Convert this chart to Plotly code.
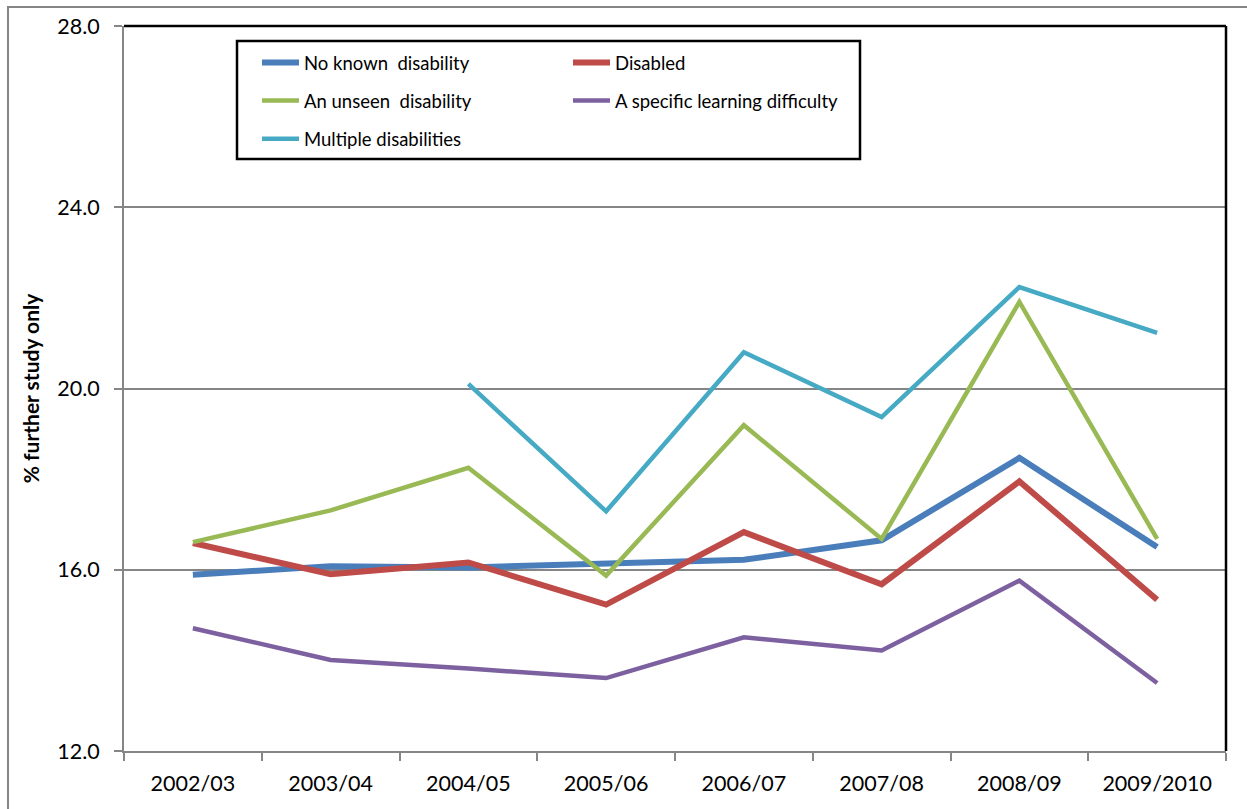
import plotly.graph_objects as go

# Academic years on the category axis
years = ["2002/03", "2003/04", "2004/05", "2005/06", "2006/07", "2007/08", "2008/09", "2009/2010"]

# % of leavers in further study only, by disability status
no_known = [15.89, 16.08, 16.05, 16.13, 16.22, 16.65, 18.47, 16.50]
disabled = [16.59, 15.90, 16.16, 15.23, 16.83, 15.68, 17.95, 15.34]
unseen = [16.61, 17.31, 18.25, 15.87, 19.19, 16.68, 21.91, 16.68]
specific_ld = [14.71, 14.01, 13.82, 13.61, 14.51, 14.22, 15.76, 13.50]
multiple = [None, None, 20.10, 17.29, 20.80, 19.37, 22.24, 21.23]

y_ticks = [12.0, 16.0, 20.0, 24.0, 28.0]

W, H = 1247, 809
ML, MR, MT, MB = 124, 21, 26, 58
PW, PH = W - ML - MR, H - MT - MB

def px_x(p):
    return (p - ML) / PW

def px_y(p):
    return (H - MB - p) / PH

FONT = "Lato"
GRAY = "#868686"

series = [
    ("No known  disability", no_known, "#4A7EBB", 6, "legend"),
    ("Disabled", disabled, "#BE4B48", 6, "legend2"),
    ("An unseen  disability", unseen, "#98B954", 4.5, "legend"),
    ("A specific learning difficulty", specific_ld, "#7D60A0", 4.5, "legend2"),
    ("Multiple disabilities", multiple, "#46AAC5", 4.5, "legend"),
]

fig = go.Figure()
for name, vals, color, width, leg in series:
    fig.add_trace(go.Scatter(
        x=years, y=vals, name=name, mode="lines",
        line=dict(color=color, width=width),
        connectgaps=False, legend=leg, legendgroup=name,
    ))

legend_common = dict(
    bgcolor="rgba(0,0,0,0)", borderwidth=0,
    font=dict(family=FONT, size=18.5, color="#000000"),
    traceorder="grouped", tracegroupgap=11,
    xanchor="left", yanchor="top", itemwidth=37,
)

fig.update_layout(
    width=W, height=H,
    margin=dict(l=ML, r=MR, t=MT, b=MB),
    paper_bgcolor="white", plot_bgcolor="white",
    font=dict(family=FONT, color="#000000"),
    showlegend=True,
    legend=dict(x=px_x(257), y=px_y(44), **legend_common),
    legend2=dict(x=px_x(568), y=px_y(44), **legend_common),
    xaxis=dict(
        type="category", range=[-0.5, len(years) - 0.5],
        tickson="boundaries", ticks="outside", ticklen=8, tickwidth=2, tickcolor=GRAY,
        showline=True, linecolor=GRAY, linewidth=2,
        showgrid=False, tickfont=dict(family=FONT, size=21.5),
        ticklabelstandoff=12,
    ),
    yaxis=dict(
        range=[12, 28], tickvals=y_ticks, tickformat=".1f",
        ticks="outside", ticklen=8, tickwidth=2, tickcolor=GRAY,
        showline=True, linecolor=GRAY, linewidth=2,
        showgrid=True, gridcolor=GRAY, gridwidth=2,
        zeroline=False, tickfont=dict(family=FONT, size=21.5),
        ticklabelstandoff=10,
        title=dict(text="<b>% further study only</b>", font=dict(family=FONT, size=21), standoff=12),
    ),
    shapes=[
        # chart area frame
        dict(type="rect", xref="paper", yref="paper",
             x0=px_x(8), x1=px_x(W + 10), y0=px_y(H + 10), y1=px_y(7),
             line=dict(color=GRAY, width=2), layer="below"),
        # plot area frame: top and right edges
        dict(type="line", xref="paper", yref="paper", x0=0, x1=1, y0=1, y1=1,
             line=dict(color="#000000", width=2.5), layer="above"),
        dict(type="line", xref="paper", yref="paper", x0=1, x1=1, y0=0, y1=1,
             line=dict(color="#000000", width=2.5), layer="above"),
        # legend box
        dict(type="rect", xref="paper", yref="paper",
             x0=px_x(237), x1=px_x(860), y0=px_y(159), y1=px_y(41),
             line=dict(color="#000000", width=2.5), fillcolor="white", layer="below"),
    ],
)

fig.write_html("out.html")
